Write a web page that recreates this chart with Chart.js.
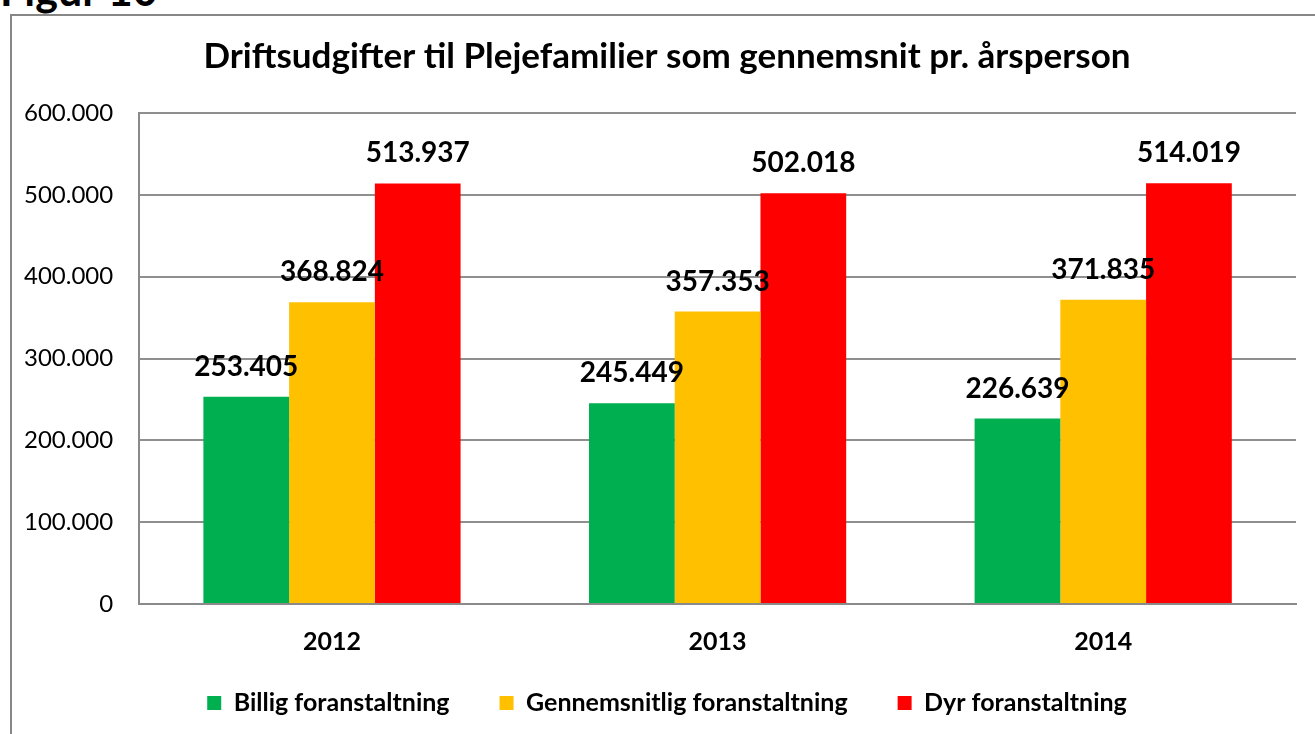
<!DOCTYPE html>
<html>
<head>
<meta charset="utf-8">
<script src="https://cdn.jsdelivr.net/npm/chart.js@4.4.0/dist/chart.umd.min.js"></script>
<style>
  html, body { margin: 0; padding: 0; width: 1315px; height: 734px; overflow: hidden; background: #fff; }
  #fig { position: absolute; left: 0; top: -36px; font: bold 43px Lato, sans-serif; color: #000; white-space: nowrap; }
  #frame { position: absolute; left: 10px; top: 14px; width: 1400px; height: 800px; border: 2px solid #878787; box-sizing: border-box; }
  #wrap { position: absolute; left: 10px; top: 0; width: 1315px; height: 734px; }
</style>
</head>
<body>
<div id="fig">Figur 10</div>
<div id="frame"></div>
<div id="wrap"><canvas id="c" width="1315" height="734"></canvas></div>
<script>
const categories = ['2012', '2013', '2014'];
const seriesNames = ['Billig foranstaltning', 'Gennemsnitlig foranstaltning', 'Dyr foranstaltning'];
const billig = [253405, 245449, 226639];
const gennemsnitlig = [368824, 357353, 371835];
const dyr = [513937, 502018, 514019];
const seriesColors = ['#00B050', '#FFC000', '#FF0000'];
const chartTitle = 'Driftsudgifter til Plejefamilier som gennemsnit pr. årsperson';

function fmt(v) {
  return String(Math.round(v)).replace(/\B(?=(\d{3})+(?!\d))/g, '.');
}

const LEGEND_FONT = 25;
const LEGEND_PAD = 50;

const labelPlugin = {
  id: 'valueLabels',
  afterDatasetsDraw(chart) {
    const ctx = chart.ctx;
    ctx.save();
    ctx.font = 'bold 28px Lato, sans-serif';
    ctx.fillStyle = '#000';
    ctx.textAlign = 'center';
    ctx.textBaseline = 'middle';
    chart.data.datasets.forEach((ds, i) => {
      const meta = chart.getDatasetMeta(i);
      meta.data.forEach((bar, j) => {
        ctx.fillText(fmt(ds.data[j]), bar.x, bar.y - 30);
      });
    });
    ctx.restore();
  }
};

// place the legend row a fixed distance below the x axis, and centre title/legend in the frame
const legendPlace = {
  id: 'legendPlace',
  afterLayout(chart) {
    const lg = chart.legend;
    const h = lg.bottom - lg.top;
    const top = chart.chartArea.bottom + 99 - LEGEND_PAD - LEGEND_FONT / 2;
    lg.top = top;
    lg.bottom = top + h;
    lg.left += 20;
    lg.right += 20;
    const tb = chart.titleBlock;
    tb.left += 20;
    tb.right += 20;
  }
};

new Chart(document.getElementById('c'), {
  type: 'bar',
  data: {
    labels: categories,
    datasets: [
      { label: seriesNames[0], data: billig, backgroundColor: seriesColors[0] },
      { label: seriesNames[1], data: gennemsnitlig, backgroundColor: seriesColors[1] },
      { label: seriesNames[2], data: dyr, backgroundColor: seriesColors[2] }
    ]
  },
  options: {
    responsive: false,
    animation: false,
    layout: { padding: { left: -12, right: 29, top: 0, bottom: -31 } },
    datasets: { bar: { categoryPercentage: 0.667, barPercentage: 1.0, borderWidth: 0 } },
    scales: {
      x: {
        grid: { display: false, drawTicks: false },
        border: { display: true, color: '#8a8a8a', width: 2 },
        ticks: { color: '#000', font: { family: 'Lato, sans-serif', size: 25, weight: 'bold' }, padding: 23 }
      },
      y: {
        min: 0, max: 600000,
        grid: { color: '#8f8f8f', lineWidth: 2, drawTicks: false },
        border: { display: true, color: '#8a8a8a', width: 2 },
        ticks: {
          stepSize: 100000,
          color: '#000',
          font: { family: 'Lato, sans-serif', size: 24 },
          padding: 26,
          callback: (v) => fmt(v)
        }
      }
    },
    plugins: {
      title: {
        display: true,
        text: chartTitle,
        color: '#000',
        font: { family: 'Lato, sans-serif', size: 35, weight: 'bold' },
        padding: { top: 36, bottom: 35 }
      },
      legend: {
        position: 'bottom',
        labels: {
          color: '#000',
          font: { family: 'Lato, sans-serif', size: LEGEND_FONT, weight: 'bold' },
          boxWidth: 14, boxHeight: 14,
          padding: LEGEND_PAD
        }
      },
      tooltip: { enabled: false }
    }
  },
  plugins: [labelPlugin, legendPlace]
});
</script>
</body>
</html>
